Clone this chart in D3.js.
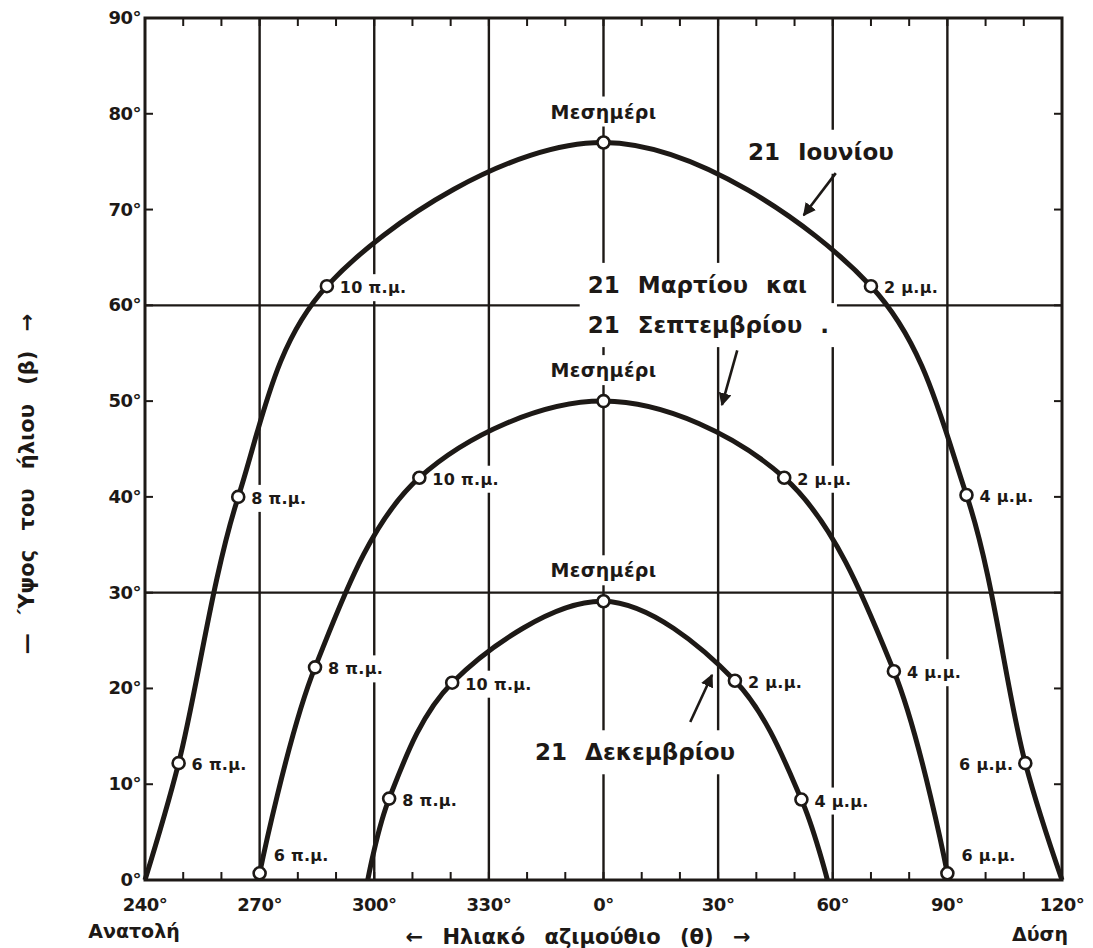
<!DOCTYPE html>
<html>
<head>
<meta charset="utf-8">
<title>Ύψος και αζιμούθιο του ήλιου</title>
<script src="https://cdn.jsdelivr.net/npm/d3@7"></script>
<style>
  body { margin: 0; background: #fff; }
  text { font-family: "DejaVu Sans", "Liberation Sans", sans-serif; fill: #1d1916; }
</style>
</head>
<body>
<script>
// azimuth counted from south: east negative (240° -> -120), west positive
var juneAz   = [-120, -111.2, -95.6, -72.4, 0, 70, 95, 110.4, 120]
var juneAlt  = [0, 12.2, 40, 62, 77, 62, 40.2, 12.2, 0]
var juneHour = ["", "6 π.μ.", "8 π.μ.", "10 π.μ.", "Μεσημέρι", "2 μ.μ.", "4 μ.μ.", "6 μ.μ.", ""]

var marchAz   = [-90, -75.5, -48.2, 0, 47.3, 76, 90]
var marchAlt  = [0.7, 22.2, 42, 50, 42, 21.8, 0.7]
var marchHour = ["6 π.μ.", "8 π.μ.", "10 π.μ.", "Μεσημέρι", "2 μ.μ.", "4 μ.μ.", "6 μ.μ."]

var decAz   = [-61.7, -56.1, -39.6, 0, 34.4, 51.8, 58.6]
var decAlt  = [0, 8.5, 20.6, 29.1, 20.8, 8.4, 0]
var decHour = ["", "8 π.μ.", "10 π.μ.", "Μεσημέρι", "2 μ.μ.", "4 μ.μ.", ""]

var azTicks   = [-120, -90, -60, -30, 0, 30, 60, 90, 120]
var azLabels  = ["240°", "270°", "300°", "330°", "0°", "30°", "60°", "90°", "120°"]
var altTicks  = [0, 10, 20, 30, 40, 50, 60, 70, 80, 90]
var altLabels = ["0°", "10°", "20°", "30°", "40°", "50°", "60°", "70°", "80°", "90°"]

var width = 1093
var height = 948
var ink = "#1d1916"

var svg = d3.select("body").append("svg")
    .attr("width", width)
    .attr("height", height)

var x = d3.scaleLinear().domain([-120, 120]).range([145, 1062])
var y = d3.scaleLinear().domain([0, 90]).range([880, 18])

var gridLayer = svg.append("g")
var gapLayer = svg.append("g")
var textLayer = svg.append("g")
var curveLayer = svg.append("g")
var pointLayer = svg.append("g")
var hourLayer = svg.append("g")

// grid: every 30° of azimuth, 30° and 60° of altitude
gridLayer.selectAll("line.v")
    .data(azTicks.slice(1, -1))
    .enter().append("line")
    .attr("x1", d => x(d)).attr("x2", d => x(d))
    .attr("y1", y(90)).attr("y2", y(0))
    .attr("stroke", ink).attr("stroke-width", 2.4)

gridLayer.selectAll("line.h")
    .data([30, 60])
    .enter().append("line")
    .attr("x1", x(-120)).attr("x2", x(120))
    .attr("y1", d => y(d)).attr("y2", d => y(d))
    .attr("stroke", ink).attr("stroke-width", 2.4)

// small 10° ticks on all four sides
var minorAz = d3.range(-110, 120, 10)
var minorAlt = d3.range(10, 90, 10)
gridLayer.selectAll("line.tb")
    .data(minorAz)
    .enter().append("line")
    .attr("x1", d => x(d)).attr("x2", d => x(d))
    .attr("y1", y(0)).attr("y2", y(0) - 8)
    .attr("stroke", ink).attr("stroke-width", 2)
gridLayer.selectAll("line.tt")
    .data(minorAz)
    .enter().append("line")
    .attr("x1", d => x(d)).attr("x2", d => x(d))
    .attr("y1", y(90)).attr("y2", y(90) + 8)
    .attr("stroke", ink).attr("stroke-width", 2)
gridLayer.selectAll("line.tl")
    .data(minorAlt)
    .enter().append("line")
    .attr("x1", x(-120)).attr("x2", x(-120) + 8)
    .attr("y1", d => y(d)).attr("y2", d => y(d))
    .attr("stroke", ink).attr("stroke-width", 2)
gridLayer.selectAll("line.tr")
    .data(minorAlt)
    .enter().append("line")
    .attr("x1", x(120)).attr("x2", x(120) - 8)
    .attr("y1", d => y(d)).attr("y2", d => y(d))
    .attr("stroke", ink).attr("stroke-width", 2)

// frame
gridLayer.append("rect")
    .attr("x", x(-120)).attr("y", y(90))
    .attr("width", x(120) - x(-120)).attr("height", y(0) - y(90))
    .attr("fill", "none").attr("stroke", ink).attr("stroke-width", 3)

// axis labels
svg.append("g").selectAll("text")
    .data(azTicks)
    .enter().append("text")
    .attr("x", d => x(d))
    .attr("y", 911)
    .attr("text-anchor", "middle")
    .attr("font-size", 18).attr("font-weight", "bold")
    .attr("letter-spacing", -0.5)
    .text((d, i) => azLabels[i])

svg.append("g").selectAll("text")
    .data(altTicks)
    .enter().append("text")
    .attr("x", 141)
    .attr("y", d => y(d) + 6)
    .attr("text-anchor", "end")
    .attr("font-size", 18).attr("font-weight", "bold")
    .attr("letter-spacing", -0.5)
    .text((d, i) => altLabels[i])

svg.append("text")
    .attr("x", 134).attr("y", 938)
    .attr("text-anchor", "middle")
    .attr("font-size", 19).attr("font-weight", "bold")
    .text("Ανατολή")

svg.append("text")
    .attr("x", 1040).attr("y", 941)
    .attr("text-anchor", "middle")
    .attr("font-size", 19).attr("font-weight", "bold")
    .text("Δύση")

svg.append("text")
    .attr("x", 578).attr("y", 944)
    .attr("text-anchor", "middle")
    .attr("font-size", 21).attr("font-weight", "bold")
    .attr("word-spacing", 12)
    .text("← Ηλιακό αζιμούθιο (θ) →")

svg.append("text")
    .attr("transform", "translate(34,484) rotate(-90)")
    .attr("text-anchor", "middle")
    .attr("font-size", 21).attr("font-weight", "bold")
    .attr("word-spacing", 12)
    .text("— Ύψος του ήλιου (β) →")

// white gap behind a label so the grid breaks around it
function gapped(sel, padX, padY) {
    sel.each(function() {
        var b = this.getBBox()
        gapLayer.append("rect")
            .attr("x", b.x - padX).attr("y", b.y - padY)
            .attr("width", b.width + 2 * padX).attr("height", b.height + 2 * padY)
            .attr("fill", "#fff")
    })
}

// curve names
var notes = [
    {text: "21 Ιουνίου", az: 37.8, alt: 75.2},
    {text: "21 Μαρτίου και", az: -4.1, alt: 61.3},
    {text: "21 Σεπτεμβρίου .", az: -4.1, alt: 57.1},
    {text: "21 Δεκεμβρίου", az: -17.9, alt: 12.5}
]
var noteText = textLayer.selectAll("text.note")
    .data(notes)
    .enter().append("text")
    .attr("x", d => x(d.az))
    .attr("y", d => y(d.alt))
    .attr("font-size", 23)
    .attr("font-weight", "bold")
    .attr("word-spacing", 10)
    .text(d => d.text)
gapped(noteText, 8, 9)

// arrows from names to curves
svg.append("defs").append("marker")
    .attr("id", "head")
    .attr("viewBox", "0 0 10 10")
    .attr("refX", 9).attr("refY", 5)
    .attr("markerWidth", 5).attr("markerHeight", 5)
    .attr("orient", "auto")
    .append("path").attr("d", "M0,0L10,5L0,10z").attr("fill", ink)

var arrows = [
    {az0: 60.8, alt0: 73.8, az1: 52.4, alt1: 69.4},
    {az0: 35.0, alt0: 55.3, az1: 31.0, alt1: 49.6},
    {az0: 22.7, alt0: 16.5, az1: 28.4, alt1: 21.4}
]
textLayer.selectAll("line.arrow")
    .data(arrows)
    .enter().append("line")
    .attr("x1", d => x(d.az0)).attr("y1", d => y(d.alt0))
    .attr("x2", d => x(d.az1)).attr("y2", d => y(d.alt1))
    .attr("stroke", ink).attr("stroke-width", 2.6)
    .attr("marker-end", "url(#head)")

// the three day paths
var days = [
    {az: juneAz, alt: juneAlt, hour: juneHour},
    {az: marchAz, alt: marchAlt, hour: marchHour},
    {az: decAz, alt: decAlt, hour: decHour}
]

var line = d3.line()
    .x(d => x(d.az))
    .y(d => y(d.alt))
    .curve(d3.curveCatmullRom.alpha(0.5))

days.forEach(function(day, k) {
    var pts = day.az.map((a, i) => ({az: a, alt: day.alt[i], hour: day.hour[i], day: k}))

    curveLayer.append("path")
        .attr("d", line(pts))
        .attr("fill", "none")
        .attr("stroke", ink)
        .attr("stroke-width", 5)

    var marked = pts.filter(p => p.hour != "")

    pointLayer.selectAll(null)
        .data(marked)
        .enter().append("circle")
        .attr("cx", p => x(p.az))
        .attr("cy", p => y(p.alt))
        .attr("r", 6)
        .attr("fill", "#fff")
        .attr("stroke", ink)
        .attr("stroke-width", 2.6)

    var labels = hourLayer.selectAll(null)
        .data(marked)
        .enter().append("text")
        .attr("font-size", 16)
        .attr("font-weight", "bold")
        .attr("letter-spacing", 0.3)
        .text(p => p.hour)
        .each(function(p) {
            var t = d3.select(this)
            var cx = x(p.az), cy = y(p.alt)
            if (p.hour == "Μεσημέρι") {
                t.attr("x", cx).attr("y", cy - 24)
                 .attr("text-anchor", "middle")
                 .attr("font-size", 19)
            } else if (p.alt < 1) {
                t.attr("x", cx + 14).attr("y", cy - 12)
            } else if (k == 0 && p.az > 100) {
                t.attr("x", cx - 12).attr("y", cy + 7).attr("text-anchor", "end")
            } else {
                t.attr("x", cx + 13).attr("y", cy + 7)
            }
        })
    gapped(labels, 4, 4)
})
</script>
</body>
</html>
